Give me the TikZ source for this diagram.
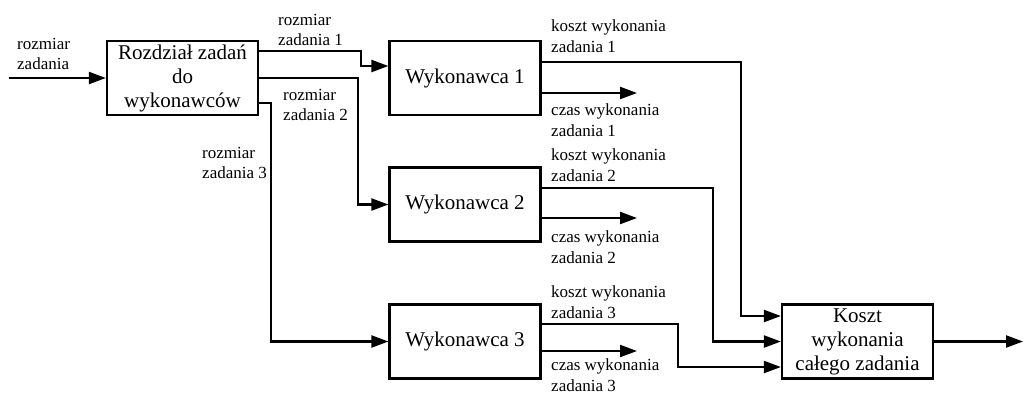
\documentclass[tikz,border=0pt]{standalone}
\usepackage{fontspec}
\setmainfont{LiberationSerif}[Extension=.ttf,UprightFont=*-Regular,BoldFont=*-Bold]
\usetikzlibrary{arrows.meta}
\begin{document}
\begin{tikzpicture}[x=1pt,y=-1pt,
  blk/.style={draw,line width=2.2pt,minimum width=151pt,minimum height=74pt,inner sep=0pt,align=center,font=\rmfamily\fontsize{21}{24}\selectfont},
  lbl/.style={anchor=west,inner sep=0pt,align=left,font=\rmfamily\fontsize{17}{20.5}\selectfont},
  conn/.style={line width=2.2pt},
  arr/.style={conn,-{Triangle[length=17pt,width=12pt]}}]
\useasboundingbox (0,0) rectangle (1025,394);
% blocks
\node[blk] (R) at (182.5,78) {Rozdział zadań\\do\\wykonawców};
\node[blk] (W1) at (465,78) {Wykonawca 1};
\node[blk] (W2) at (465,204.5) {Wykonawca 2};
\node[blk] (W3) at (465,341.5) {Wykonawca 3};
\node[blk] (K) at (857.5,341.5) {Koszt\\wykonania\\całego zadania};
% free ends
\coordinate (in) at (9,78);
\coordinate (out) at (1023,341.5);
\coordinate (c1) at (637,93);
\coordinate (c2) at (637,218);
\coordinate (c3) at (637,351);
% connectors
\draw[arr] (in) -- (R.west);
\draw[arr] ([yshift=27pt]R.east) -- ++(102,0) |- ([yshift=12pt]W1.west);
\draw[arr] (R.east) -- ++(99,0) |- (W2.west);
\draw[arr] ([yshift=-25pt]R.east) -- ++(12,0) |- (W3.west);
\draw[arr] ([yshift=16pt]W1.east) -- ++(199,0) |- ([yshift=25.5pt]K.west);
\draw[arr] ([yshift=16.5pt]W2.east) -- ++(171,0) |- (K.west);
\draw[arr] ([yshift=17.5pt]W3.east) -- ++(136,0) |- ([yshift=-25.5pt]K.west);
\draw[arr] (W1.east |- c1) -- (c1);
\draw[arr] (W2.east |- c2) -- (c2);
\draw[arr] (W3.east |- c3) -- (c3);
\draw[arr] (K.east) -- (out);
% labels
\node[lbl] (l0) at (17,54) {rozmiar\\zadania};
\node[lbl] (l1) at (278,30) {rozmiar\\zadania 1};
\node[lbl] (l2) at (283,105) {rozmiar\\zadania 2};
\node[lbl] (l3) at (202,163) {rozmiar\\zadania 3};
\node[lbl] (k1) at (551,36) {koszt wykonania\\zadania 1};
\node[lbl] (t1) at (551,120) {czas wykonania\\zadania 1};
\node[lbl] (k2) at (551,165) {koszt wykonania\\zadania 2};
\node[lbl] (t2) at (551,247) {czas wykonania\\zadania 2};
\node[lbl] (k3) at (551,302) {koszt wykonania\\zadania 3};
\node[lbl] (t3) at (551,375) {czas wykonania\\zadania 3};
\end{tikzpicture}
\end{document}
